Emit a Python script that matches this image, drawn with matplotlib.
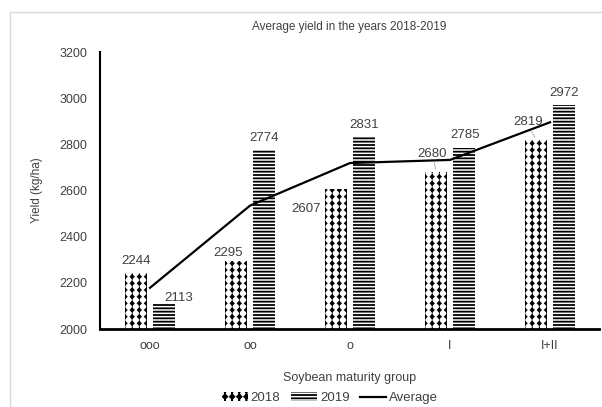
import matplotlib.pyplot as plt
import matplotlib.patches as mpatches
import matplotlib.hatch as mhatch
from matplotlib.path import Path
import numpy as np

plt.rcParams['font.family'] = ['Liberation Sans', 'DejaVu Sans']

groups = ['ooo', 'oo', 'o', 'I', 'I+II']
y2018 = [2244, 2295, 2607, 2680, 2819]
y2019 = [2113, 2774, 2831, 2785, 2972]
avg = [(a + b) / 2 for a, b in zip(y2018, y2019)]

# label offsets in pixels (dx, dy) relative to bar centre / top
off2018 = [(0, 12), (-8, 8), (-30, -20), (-4, 18), (-8, 18)]
off2019 = [(15, 5), (0, 12), (0, 12), (1, 13), (0, 12)]


# excel-like "solid diamond" pattern: columns of diamonds threaded on a line
class DiamondColumns(mhatch.HatchPatternBase):
    ncol, nrow = 14, 15

    def __init__(self, hatch, density):
        self.on = '*' in hatch
        self.num_vertices = (self.ncol * (self.nrow * 5 + 2)) if self.on else 0

    def set_vertices_and_codes(self, vertices, codes):
        a, b = 0.31 / self.ncol, 0.33 / self.nrow
        k = 0
        for i in range(self.ncol):
            cx = (i + 0.5) / self.ncol
            vertices[k:k + 2] = [(cx, 0), (cx, 1)]
            codes[k:k + 2] = [Path.MOVETO, Path.LINETO]
            k += 2
            for j in range(self.nrow):
                cy = (j + 0.5) / self.nrow
                vertices[k:k + 5] = [(cx - a, cy), (cx, cy - b), (cx + a, cy),
                                     (cx, cy + b), (cx - a, cy)]
                codes[k:k + 5] = [Path.MOVETO, Path.LINETO, Path.LINETO,
                                  Path.LINETO, Path.CLOSEPOLY]
                k += 5


mhatch._hatch_types = [t for t in mhatch._hatch_types if t is not mhatch.Stars] + [DiamondColumns]

fig = plt.figure(figsize=(6.02, 4.07), dpi=100)
ax = fig.add_axes([100 / 602, 78 / 407, 499 / 602, 277 / 407])

# light frame around the chart area
fig.patches.append(mpatches.Rectangle((10 / 602, -0.1), 1.2, (407 - 12) / 407 + 0.1,
                                      transform=fig.transFigure, fill=False,
                                      edgecolor='#d9d9d9', linewidth=1))

x = np.arange(len(groups))
w = 0.22
plt.rcParams['hatch.linewidth'] = 0.5
b1 = ax.bar(x - 0.14, np.array(y2018) - 2000, w, bottom=2000, color='white',
            edgecolor='black', hatch='*', linewidth=0, label='2018')
plt.rcParams['hatch.linewidth'] = 1.3
b2 = ax.bar(x + 0.14, np.array(y2019) - 2000, w, bottom=2000, color='white',
            edgecolor='black', hatch='-----', linewidth=0, label='2019')
ln, = ax.plot(x, avg, color='black', linewidth=1.6, label='Average')

txt = '#404040'
for i in range(len(groups)):
    dx, dy = off2018[i]
    ax.annotate(str(y2018[i]), (x[i] - 0.14, y2018[i]), xytext=(dx, dy),
                textcoords='offset pixels', ha='center', va='center',
                fontsize=9.5, color=txt)
    dx, dy = off2019[i]
    ax.annotate(str(y2019[i]), (x[i] + 0.14, y2019[i]), xytext=(dx, dy),
                textcoords='offset pixels', ha='center', va='center',
                fontsize=9.5, color=txt)

# leader lines for two labels
for i in [3, 4]:
    dx, dy = off2018[i]
    ax.annotate('', (x[i] - 0.14, y2018[i]), xytext=(dx + 2, dy - 6),
                textcoords='offset pixels',
                arrowprops=dict(arrowstyle='-', color='#a6a6a6', lw=0.6))

ax.set_xlim(-0.5, 4.49)
ax.set_ylim(2000, 3200)
ax.set_yticks(np.arange(2000, 3201, 200))
ax.set_xticks(x)
ax.set_xticklabels(groups)
ax.tick_params(length=0, labelsize=9, labelcolor=txt)
ax.tick_params(axis='y', pad=9)
ax.tick_params(axis='x', pad=8)

for s in ['top', 'right']:
    ax.spines[s].set_visible(False)
ax.spines['left'].set_linewidth(1.5)
ax.spines['bottom'].set_linewidth(2)

ax.set_title('Average yield in the years 2018-2019', fontsize=8.5, color=txt, pad=16)
ax.set_ylabel('Yield (kg/ha)', fontsize=8.5, color=txt, labelpad=12)
ax.set_xlabel('Soybean maturity group', fontsize=9, color=txt, labelpad=14)

fig.legend(handles=[b1, b2, ln], loc='center', bbox_to_anchor=(0.548, 0.022),
           ncol=3, frameon=False, fontsize=9.5, handlelength=2.0,
           handletextpad=0.2, columnspacing=0.8, labelcolor=txt)

fig.savefig('out.png', dpi=100)
